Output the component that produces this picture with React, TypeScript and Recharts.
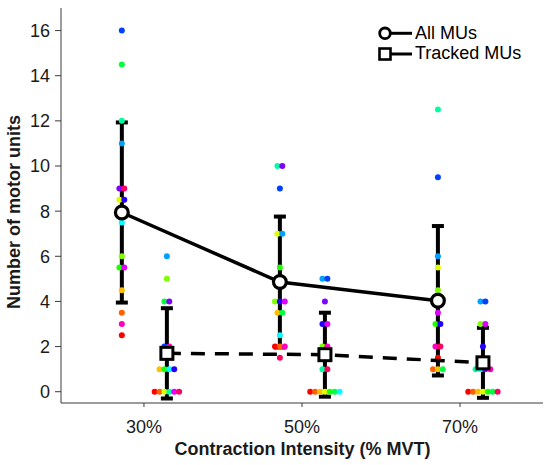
import React from "react";
import { ComposedChart, Scatter, XAxis, YAxis, ErrorBar, Legend, Label } from "recharts";

// Contraction intensities (% MVT) and their tick labels
const categories = [30, 50, 70];
const tickLabels = ["30%", "50%", "70%"];
const yTicks = [0, 2, 4, 6, 8, 10, 12, 14, 16];

// Group means ± SD
const allMean = [7.94, 4.86, 4.03];
const allSd = [3.99, 2.9, 3.31];
const trackedMean = [1.7, 1.64, 1.28];
const trackedSd = [2.0, 1.86, 1.55];

// One colour per participant (hsv wheel, 16 steps)
const participantColors = [
  "#ff0000", "#ff6000", "#ffbf00", "#dfff00",
  "#80ff00", "#20ff00", "#00ff40", "#00ffa0",
  "#00ffff", "#00a0ff", "#0040ff", "#2000ff",
  "#8000ff", "#df00ff", "#ff00bf", "#ff0060",
];

// Per-participant counts, same order as participantColors
const all30 = [2.5, 3.5, 4.5, 8.5, 6, 5.5, 14.5, 12, 7.5, 11, 16, 8.5, 9, 5.5, 3, 9];
const tracked30 = [0, 0, 1, 0, 5, 1, 4, 0, 1, 6, 2, 1, 4, 0, 2, 0];
const all50 = [2, 2, 3.5, 7, 4, 5.5, 3.5, 10, 2.5, 7, 9, 4, 10, 4, 2, 1.5];
const tracked50 = [0, 0, 0, 0, 2, 0, 0, 1, 0, 5, 5, 3, 4, 3, 2, 1];
const all70 = [1.5, 1, 1, 5.5, 4.5, 3, 1, 12.5, 4, 6, 9.5, 3, 4, 3.5, 2, 2];
const tracked70 = [0, 0, 0, 0, 3, 0, 0, 1, 1, 4, 4, 2, 1, 3, 1, 0];

const ALL_SHIFT = -2.8;
const TRACKED_SHIFT = 2.9;
const JITTER = 0.62;

type Dot = { x: number; y: number; color: string };

// spread participants sharing a value side by side, centred on the column
function swarm(values: number[], x: number): Dot[] {
  const rows = new Map<number, number[]>();
  values.forEach((v, i) => rows.set(v, [...(rows.get(v) ?? []), i]));
  const out: Dot[] = [];
  rows.forEach((idx, v) =>
    idx.forEach((i, k) =>
      out.push({ x: x + (k - (idx.length - 1) / 2) * JITTER, y: v, color: participantColors[i] })
    )
  );
  return out;
}

const dots: Dot[] = [
  ...swarm(all30, categories[0] + ALL_SHIFT),
  ...swarm(tracked30, categories[0] + TRACKED_SHIFT),
  ...swarm(all50, categories[1] + ALL_SHIFT),
  ...swarm(tracked50, categories[1] + TRACKED_SHIFT),
  ...swarm(all70, categories[2] + ALL_SHIFT),
  ...swarm(tracked70, categories[2] + TRACKED_SHIFT),
];

const allData = categories.map((c, i) => ({ x: c + ALL_SHIFT, y: allMean[i], sd: allSd[i] }));
const trackedData = categories.map((c, i) => ({ x: c + TRACKED_SHIFT, y: trackedMean[i], sd: trackedSd[i] }));

const FONT = "'Liberation Sans', Arial, sans-serif";
const AXIS = "#3a3a3a";

function LegendBox() {
  return (
    <svg width={170} height={50} style={{ fontFamily: FONT }}>
      <line x1={15} y1={15.3} x2={42} y2={15.3} stroke="#000" strokeWidth={3} />
      <circle cx={15} cy={15.3} r={5.3} fill="#fff" stroke="#000" strokeWidth={2.8} />
      <text x={45} y={20.6} fontSize={18} fill="#000">All MUs</text>
      <line x1={15} y1={36} x2={42} y2={36} stroke="#000" strokeWidth={3} />
      <rect x={9.5} y={30.5} width={11} height={11} fill="#fff" stroke="#000" strokeWidth={2.6} />
      <text x={45} y={41.3} fontSize={18} fill="#000">Tracked MUs</text>
    </svg>
  );
}

export default function App() {
  return (
    <div style={{ position: "absolute", left: 0, top: 0, width: 550, height: 465, background: "#fff" }}>
      <ComposedChart
        width={550}
        height={465}
        margin={{ top: 8, right: 7, bottom: 0, left: 0 }}
        style={{ fontFamily: FONT }}
      >
        <XAxis
          type="number"
          dataKey="x"
          domain={[19.5, 80.5]}
          ticks={categories}
          tickFormatter={(v) => tickLabels[categories.indexOf(v)]}
          height={62}
          allowDataOverflow
          stroke={AXIS}
          tickSize={4}
          tickMargin={13}
          tick={{ fontSize: 18, fill: "#1a1a1a" }}
        >
          <Label
            content={() => (
              <text x={302.5} y={454.5} textAnchor="middle" fontSize={18} fontWeight="bold" fill="#1a1a1a">
                Contraction Intensity (% MVT)
              </text>
            )}
          />
        </XAxis>
        <YAxis
          type="number"
          dataKey="y"
          domain={[-0.5, 17]}
          ticks={yTicks}
          width={61}
          allowDataOverflow
          stroke={AXIS}
          tickSize={6}
          tickMargin={5}
          tick={{ fontSize: 18, fill: "#1a1a1a" }}
        >
          <Label
            content={() => (
              <text
                transform="translate(20, 212) rotate(-90)"
                textAnchor="middle"
                fontSize={18}
                fontWeight="bold"
                fill="#1a1a1a"
              >
                Number of motor units
              </text>
            )}
          />
        </YAxis>
        <Legend
          layout="horizontal"
          verticalAlign="middle"
          align="center"
          content={() => <LegendBox />}
          wrapperStyle={{ left: 370, top: 18, width: 170, height: 50 }}
        />
        <Scatter
          data={dots}
          isAnimationActive={false}
          shape={(p: any) => <circle cx={p.cx} cy={p.cy} r={3} fill={p.payload.color} />}
        />
        <Scatter
          data={trackedData}
          isAnimationActive={false}
          line={{ stroke: "#000", strokeWidth: 3.5, strokeDasharray: "14 10" }}
          shape={(p: any) => (
            <rect x={p.cx - 6} y={p.cy - 6} width={12} height={12} fill="#fff" stroke="#000" strokeWidth={3} />
          )}
        >
          <ErrorBar dataKey="sd" direction="y" width={6} strokeWidth={4} stroke="#000" />
        </Scatter>
        <Scatter
          data={allData}
          isAnimationActive={false}
          line={{ stroke: "#000", strokeWidth: 3.5 }}
          shape={(p: any) => <circle cx={p.cx} cy={p.cy} r={6.4} fill="#fff" stroke="#000" strokeWidth={3.2} />}
        >
          <ErrorBar dataKey="sd" direction="y" width={6} strokeWidth={4} stroke="#000" />
        </Scatter>
      </ComposedChart>
    </div>
  );
}
